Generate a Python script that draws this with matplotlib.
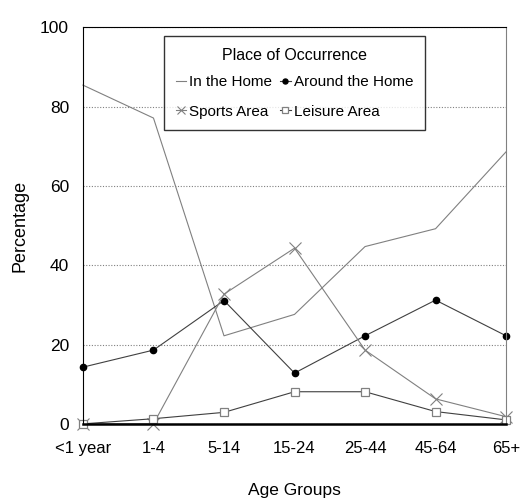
import matplotlib.pyplot as plt
from matplotlib import font_manager

age_groups = ["<1 year", "1-4", "5-14", "15-24", "25-44", "45-64", "65+"]
in_home = [85.4, 77.1, 22.2, 27.6, 44.7, 49.2, 68.6]
around_home = [14.3, 18.6, 31.1, 12.8, 22.2, 31.2, 22.2]
sports_area = [0.0, 0.0, 32.7, 44.3, 18.6, 6.3, 1.8]
leisure_area = [0.0, 1.3, 2.9, 8.1, 8.1, 3.1, 1.0]

names = {f.name for f in font_manager.fontManager.ttflist}
narrow = "Liberation Sans Narrow" if "Liberation Sans Narrow" in names else "Liberation Sans"
plt.rcParams["font.family"] = [narrow, "DejaVu Sans"]

fig = plt.figure(figsize=(5.25, 5.04), dpi=100)
ax = fig.add_axes([0.158, 0.159, 0.806, 0.787])

x = list(range(len(age_groups)))
h1, = ax.plot(x, in_home, color="#808080", lw=0.8, label="In the Home")
h2, = ax.plot(x, around_home, color="#404040", lw=0.8, marker="o", ms=4.5,
              mfc="black", mec="black", label="Around the Home")
h3, = ax.plot(x, sports_area, color="#808080", lw=0.8, marker="x", ms=8,
              mew=0.8, label="Sports Area")
h4, = ax.plot(x, leisure_area, color="#404040", lw=0.8, marker="s", ms=6,
              mfc="white", mec="#808080", mew=0.9, label="Leisure Area")
for h in (h1, h2, h3, h4):
    h.set_clip_on(False)

ax.set_xlim(0, len(age_groups) - 1)
ax.set_ylim(0, 100)
ax.set_yticks([0, 20, 40, 60, 80, 100])
ax.set_xticks(x)
ax.set_xticklabels(age_groups)
ax.tick_params(axis="x", length=0, labelsize=12, pad=12)
ax.tick_params(axis="y", length=0, labelsize=12.5, pad=10)
ax.yaxis.grid(True, linestyle=(0, (1, 1.5)), color="#808080", lw=0.8)
ax.set_axisbelow(True)

for s in ("left", "top"):
    ax.spines[s].set_color("black")
    ax.spines[s].set_linewidth(0.8)
ax.spines["right"].set_color("#808080")
ax.spines["right"].set_linewidth(0.8)
ax.spines["bottom"].set_color("black")
ax.spines["bottom"].set_linewidth(1.8)

ax.set_ylabel("Percentage", family=["Liberation Sans", "DejaVu Sans"],
              fontsize=13, labelpad=8)
ax.set_xlabel("Age Groups", fontsize=12.5, labelpad=20)

leg = ax.legend([h1, h3, h2, h4],
                ["In the Home", "Sports Area", "Around the Home", "Leisure Area"],
                ncol=2, title="Place of Occurrence", loc="upper center",
                bbox_to_anchor=(0.5, 0.977), fontsize=11, title_fontsize=11.5,
                frameon=True, fancybox=False, edgecolor="black",
                handlelength=0.7, handletextpad=0.2, columnspacing=0.5,
                labelspacing=1.0, borderpad=0.75, borderaxespad=0,
                markerscale=0.8)
leg.get_frame().set_linewidth(1.0)
leg._legend_box.sep = 9

fig.savefig("out.png", dpi=100)
